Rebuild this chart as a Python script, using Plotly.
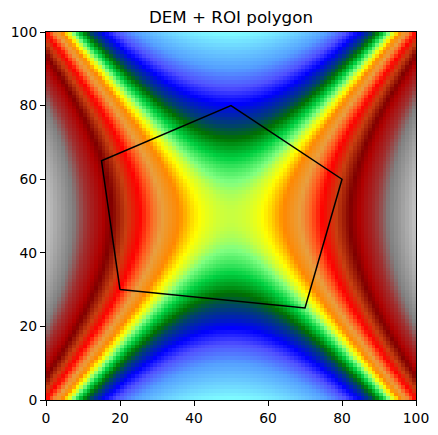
import plotly.graph_objects as go

TITLE = "DEM + ROI polygon"

# Elevation levels are estimates from the picture. The surface looks additive, so it is
# rebuilt as (level read along a row) + (level read along a column), and each half is
# mirrored because the picture looks symmetric. These are not cell-by-cell readings.
row_half = [2450, 2352, 2256, 2162, 2070, 1980, 1892, 1806, 1722, 1640,
            1560, 1482, 1406, 1332, 1260, 1190, 1122, 1056, 992, 930,
            870, 812, 756, 702, 650, 600, 552, 506, 462, 420,
            380, 342, 306, 272, 240, 210, 182, 156, 132, 110,
            90, 72, 56, 42, 30, 20, 12, 6, 2, 0]
col_half = [-1863, -1788, -1715, -1643, -1574, -1505, -1439, -1373, -1309, -1247,
            -1186, -1127, -1069, -1013, -958, -904, -853, -803, -755, -707,
            -662, -617, -575, -533, -494, -456, -419, -385, -351, -320,
            -288, -260, -233, -207, -182, -160, -139, -119, -101, -84,
            -68, -55, -42, -32, -22, -16, -9, -4, -1, 0]
cell_centres = [i + 0.5 for i in range(100)]

roi_x = [20, 70, 80, 50, 15, 20]
roi_y = [30, 25, 60, 80, 65, 30]

level_stops = [-1900, -1825, -1216, -920, -707, -464, -335, -187, -62, 0, 72, 196,
               350, 470, 605, 795, 1037, 1197, 1521, 1823, 2500]
colour_stops = ["#80ffff", "#7cf4ff", "#55a0ff", "#5050ff", "#0000ff", "#004070", "#007000",
                "#00d040", "#80ff80", "#c8ff40", "#ffff00", "#ff8800",
                "#e8a040", "#ff6020", "#ff0000", "#c84010", "#800000", "#b00000",
                "#a03030", "#808080", "#c4c4c4"]

row_levels = row_half + row_half[::-1]
col_levels = col_half + col_half[::-1]
grid = [[r + c for r in row_levels] for c in col_levels]

low, high = level_stops[0], level_stops[-1]
scale = [[(v - low) / (high - low), c] for v, c in zip(level_stops, colour_stops)]

FONT = "DejaVu Sans"
fig = go.Figure()
fig.add_trace(go.Heatmap(x=cell_centres, y=cell_centres, z=grid, colorscale=scale,
                         zmin=low, zmax=high, showscale=False, hoverinfo="skip"))
fig.add_trace(go.Scatter(x=roi_x, y=roi_y, mode="lines", showlegend=False,
                         line=dict(color="black", width=1.5), hoverinfo="skip"))

axis = dict(range=[0, 100], tickvals=[0, 20, 40, 60, 80, 100], ticks="outside", ticklen=5,
            tickwidth=1, tickcolor="black", showgrid=False, zeroline=False, showline=True,
            linecolor="black", linewidth=1, mirror=True, automargin=False,
            tickfont=dict(family=FONT, size=13.9, color="black"))
fig.update_layout(width=438, height=435, margin=dict(l=46, r=22, t=32, b=35, pad=0),
                  paper_bgcolor="white", plot_bgcolor="white", xaxis=axis, yaxis=axis,
                  title=dict(text=TITLE, x=231 / 438, xanchor="center", y=1 - 17 / 435,
                             yanchor="middle", font=dict(family=FONT, size=16.7, color="black")))
fig.write_html("out.html", config={"displayModeBar": False},
               post_script="document.body.style.margin='0';document.body.style.overflow='hidden';")
